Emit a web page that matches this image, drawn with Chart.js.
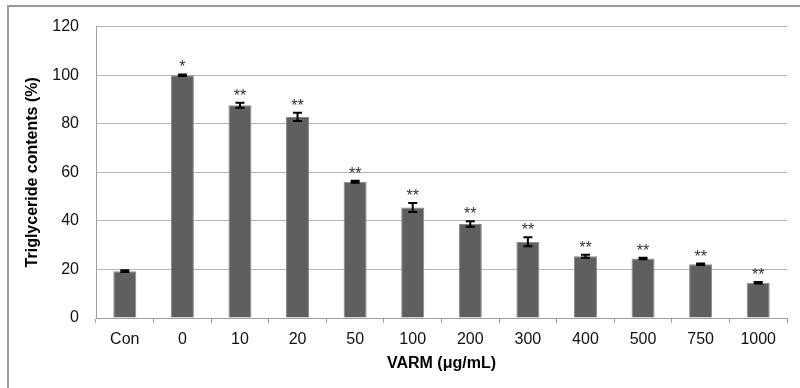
<!DOCTYPE html>
<html>
<head>
<meta charset="utf-8">
<script src="https://cdn.jsdelivr.net/npm/chart.js@4/dist/chart.umd.min.js"></script>
<style>
  html, body { margin: 0; padding: 0; background: #fff; }
  #wrap { position: relative; width: 800px; height: 388px; overflow: hidden; }
  #frame { position: absolute; left: 7px; top: 5px; width: 820px; height: 420px; border: 2px solid #9a9a9a; box-sizing: border-box; }
  canvas { position: absolute; left: 0; top: 0; }
</style>
</head>
<body>
<div id="wrap">
  <div id="frame"></div>
  <canvas id="chart" width="800" height="388"></canvas>
</div>
<script>
// Data
const doses = ['Con', '0', '10', '20', '50', '100', '200', '300', '400', '500', '750', '1000'];
const triglyceride = [19.3, 100, 87.6, 82.8, 56.1, 45.5, 38.7, 31.4, 25.4, 24.5, 22.1, 14.5];
const errors = [0.4, 0.3, 1.0, 1.7, 0.4, 1.9, 1.1, 1.9, 0.6, 0.3, 0.3, 0.3];
const marks = ['', '*', '**', '**', '**', '**', '**', '**', '**', '**', '**', '**'];
const yTicks = [0, 20, 40, 60, 80, 100, 120];

const FONT = 'Liberation Sans, Arial, sans-serif';

// Error bars and significance marks on top of the bars
const errorBarPlugin = {
    id: 'errorBars',
    afterDatasetsDraw(chart) {
        const ctx = chart.ctx;
        const yScale = chart.scales.y;
        const meta = chart.getDatasetMeta(0);
        ctx.save();
        meta.data.forEach((bar, i) => {
            const v = triglyceride[i];
            const e = errors[i];
            const yTop = yScale.getPixelForValue(v + e);
            const yBot = yScale.getPixelForValue(v - e);
            const x = bar.x;
            ctx.strokeStyle = '#000';
            ctx.lineWidth = 2;
            ctx.beginPath();
            ctx.moveTo(x, yTop);
            ctx.lineTo(x, yBot);
            ctx.moveTo(x - 4.5, yTop);
            ctx.lineTo(x + 4.5, yTop);
            ctx.moveTo(x - 4.5, yBot);
            ctx.lineTo(x + 4.5, yBot);
            ctx.stroke();
            if (marks[i]) {
                ctx.fillStyle = '#333';
                ctx.font = '16px ' + FONT;
                ctx.textAlign = 'center';
                ctx.textBaseline = 'alphabetic';
                ctx.fillText(marks[i], x, yTop - 2);
            }
        });
        ctx.restore();
    }
};

new Chart(document.getElementById('chart'), {
    type: 'bar',
    data: {
        labels: doses,
        datasets: [{
            data: triglyceride,
            backgroundColor: '#5f5f5f',
            borderColor: '#8a8a8a',
            borderWidth: 1,
            categoryPercentage: 1,
            barPercentage: 0.4
        }]
    },
    options: {
        responsive: false,
        animation: false,
        layout: { padding: { top: 16, right: 13, left: 0, bottom: 0 } },
        plugins: {
            legend: { display: false },
            tooltip: { enabled: false }
        },
        scales: {
            x: {
                grid: {
                    display: true,
                    offset: true,
                    drawOnChartArea: false,
                    drawTicks: true,
                    tickLength: 5,
                    color: '#a0a0a0'
                },
                border: { color: '#a0a0a0', width: 1 },
                ticks: {
                    color: '#111',
                    font: { family: FONT, size: 16 },
                    padding: 7,
                    maxRotation: 0
                },
                title: {
                    display: true,
                    text: 'VARM (μg/mL)',
                    color: '#000',
                    font: { family: FONT, size: 16, weight: 'bold' },
                    padding: { top: 0, bottom: 15 }
                },
                afterFit(scale) { scale.height = 70; }
            },
            y: {
                min: 0,
                max: 120,
                afterBuildTicks(scale) {
                    scale.ticks = yTicks.map(v => ({ value: v }));
                },
                grid: {
                    color: '#b4b4b4',
                    drawTicks: false
                },
                border: { color: '#a0a0a0', width: 1 },
                ticks: {
                    color: '#111',
                    font: { family: FONT, size: 16 },
                    padding: 17
                },
                title: {
                    display: true,
                    text: 'Triglyceride contents (%)',
                    color: '#000',
                    font: { family: FONT, size: 16, weight: 'bold' },
                    padding: { top: 23, bottom: 0 }
                },
                afterFit(scale) { scale.width = 96; }
            }
        }
    },
    plugins: [errorBarPlugin]
});
</script>
</body>
</html>
